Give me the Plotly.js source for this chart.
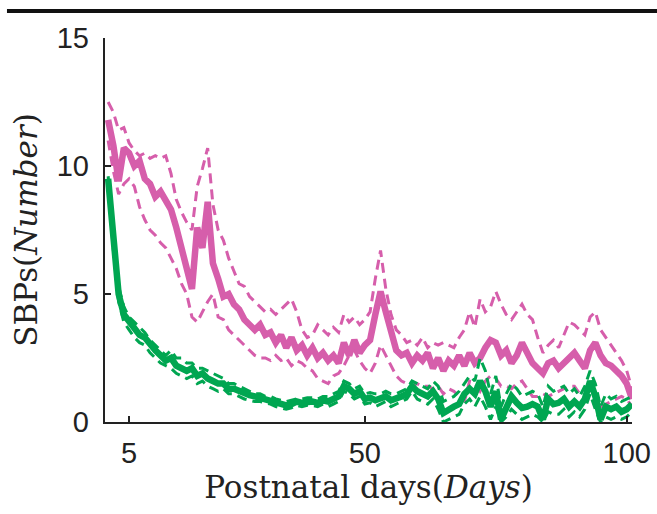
<!DOCTYPE html>
<html><head><meta charset="utf-8">
<script src="https://cdn.plot.ly/plotly-3.0.1.min.js"></script>
<style>html,body{margin:0;padding:0;background:#fff}#chart{width:657px;height:514px}</style>
</head><body><div id="chart"></div>
<script>
const days = [1,2,3,4,5,6,7,8,9,10,11,12,13,14,15,16,17,18,19,20,21,22,23,24,25,26,27,28,29,30,31,32,33,34,35,36,37,38,39,40,41,42,43,44,45,46,47,48,49,50,51,52,53,54,55,56,57,58,59,60,61,62,63,64,65,66,67,68,69,70,71,72,73,74,75,76,77,78,79,80,81,82,83,84,85,86,87,88,89,90,91,92,93,94,95,96,97,98,99,100,101];

const magentaMean = [11.8,10.8,9.4,10.7,10.5,10.0,10.2,9.5,9.3,8.8,9.0,8.6,8.3,7.6,6.8,6.2,5.2,7.6,6.8,8.6,6.2,5.6,4.9,5.0,4.6,4.4,4.0,3.8,3.6,3.8,3.4,3.5,3.1,3.4,2.9,3.3,2.8,3.0,2.6,2.9,2.5,2.7,2.4,2.6,2.3,3.1,2.6,3.2,2.7,3.0,3.2,4.2,5.1,4.3,3.5,2.8,2.6,2.7,2.3,2.6,2.4,2.7,2.1,2.5,2.0,2.4,2.2,2.6,2.2,2.7,2.3,2.5,2.9,3.2,3.1,2.6,2.8,2.3,2.6,3.1,2.7,2.3,2.1,1.9,2.3,2.4,2.1,2.3,2.5,2.7,2.4,2.1,2.8,3.1,2.6,2.3,2.2,2.0,1.8,1.5,0.9];
const magentaUpper = [12.5,12.1,11.4,11.5,10.9,10.6,10.4,10.5,10.3,10.4,10.3,10.4,9.7,8.7,8.2,7.8,7.5,9.2,9.9,10.7,8.5,7.5,7.1,6.4,5.9,5.4,5.3,4.9,4.7,4.5,4.3,4.4,4.2,4.4,4.6,4.8,4.3,3.6,3.3,3.4,3.8,3.6,3.4,3.7,3.5,4.2,3.9,4.1,3.8,4.0,4.3,5.6,6.7,5.2,4.2,3.6,3.4,3.1,3.2,3.0,3.3,2.9,3.1,3.0,3.1,3.0,2.9,3.3,3.6,4.3,3.7,4.8,4.3,4.5,5.1,4.6,4.2,4.0,4.3,4.6,4.2,4.0,3.3,2.7,3.0,3.2,2.9,3.4,3.9,3.8,3.6,3.4,4.1,4.3,3.6,3.3,3.0,2.7,2.4,2.0,1.3];
const magentaLower = [11.0,9.8,8.9,9.3,9.5,9.2,8.4,7.9,7.5,7.3,7.0,6.8,6.4,6.0,5.4,5.0,4.1,3.9,4.3,4.7,5.0,4.1,4.0,3.6,3.4,3.2,3.0,2.8,2.6,2.5,2.5,2.4,2.6,2.4,2.5,2.2,2.4,2.3,2.1,2.0,1.7,1.6,1.5,1.8,1.9,2.2,2.6,2.8,2.4,2.1,1.9,2.3,3.0,2.6,2.2,1.8,1.6,1.5,1.4,1.5,1.4,1.4,1.3,1.4,1.1,1.3,1.2,1.0,0.8,1.6,1.5,1.2,1.6,1.8,1.7,1.4,1.4,1.3,1.5,1.6,1.3,1.0,1.0,1.1,1.0,1.1,1.2,1.3,1.4,1.4,1.1,1.3,1.4,1.2,0.6,0.7,0.8,0.9,1.0,0.9,0.6];

const greenMean = [9.5,7.0,5.0,4.2,3.9,3.6,3.4,3.3,3.0,2.8,2.6,2.4,2.5,2.2,2.1,2.0,2.1,1.8,1.9,1.7,1.6,1.5,1.5,1.3,1.3,1.2,1.1,1.05,1.0,0.95,0.9,0.85,0.75,0.7,0.65,0.7,0.8,0.75,0.8,0.8,0.75,0.85,0.8,0.9,1.0,1.4,1.3,1.1,1.2,0.9,0.95,0.85,0.9,1.0,0.85,0.9,1.0,1.1,1.4,1.2,1.1,1.0,1.2,0.9,0.35,0.5,0.6,0.7,1.1,1.3,1.1,1.6,1.2,0.6,1.2,0.1,0.6,1.0,0.75,0.55,0.6,0.7,0.6,0.1,0.9,0.7,0.75,0.9,0.6,0.8,0.6,0.9,1.6,1.0,0.1,0.6,0.5,0.6,0.4,0.5,0.7];
const greenUpper = [9.6,7.3,5.3,4.5,4.1,3.9,3.7,3.5,3.2,3.0,2.8,2.6,2.8,2.5,2.5,2.3,2.3,2.1,2.1,2.0,1.9,1.8,1.7,1.5,1.5,1.4,1.3,1.2,1.1,1.1,1.0,1.0,0.9,0.85,0.8,0.85,0.9,0.9,0.95,0.95,0.9,1.0,1.0,1.1,1.2,1.6,1.5,1.3,1.4,1.1,1.15,1.1,1.1,1.2,1.1,1.1,1.2,1.3,1.6,1.5,1.4,1.3,1.6,1.4,0.8,0.9,1.0,1.2,1.5,1.8,1.6,2.5,2.0,1.1,1.8,0.6,1.1,1.5,1.3,1.0,1.1,1.2,1.1,0.6,1.4,1.2,1.3,1.4,1.1,1.3,1.0,1.4,2.0,1.5,0.6,1.1,0.9,1.0,0.8,0.9,1.0];
const greenLower = [9.3,6.7,4.7,3.9,3.6,3.3,3.1,3.0,2.7,2.5,2.3,2.2,2.1,1.9,1.8,1.7,1.8,1.5,1.6,1.4,1.3,1.2,1.3,1.1,1.1,1.0,0.9,0.85,0.8,0.8,0.75,0.7,0.6,0.55,0.5,0.55,0.65,0.6,0.65,0.65,0.6,0.7,0.6,0.7,0.8,1.2,1.1,0.9,1.0,0.7,0.75,0.6,0.7,0.8,0.6,0.7,0.8,0.9,1.2,0.9,0.8,0.7,0.9,0.5,0.0,0.1,0.2,0.3,0.7,0.9,0.6,1.0,0.6,0.1,0.6,0.0,0.2,0.5,0.3,0.1,0.2,0.3,0.2,0.0,0.4,0.3,0.3,0.5,0.2,0.4,0.2,0.5,1.1,0.5,0.0,0.2,0.1,0.2,0.1,0.2,0.4];

const xTickVals = [5, 50, 100];
const xTickText = ['5', '50', '100'];
const yTickVals = [0, 5, 10, 15];
const yTickText = ['0', '5', '10', '15'];

const MAGENTA = '#d65eab';
const GREEN = '#00a651';

function dashed(y, c) {
  return {x: days, y: y, type: 'scatter', mode: 'lines', hoverinfo: 'skip',
    line: {color: c, width: 3, dash: '10px,6px'}, showlegend: false};
}
function solid(y, c) {
  return {x: days, y: y, type: 'scatter', mode: 'lines', hoverinfo: 'skip',
    line: {color: c, width: 6.5}, showlegend: false};
}

const data = [
  dashed(magentaUpper, MAGENTA), dashed(magentaLower, MAGENTA), solid(magentaMean, MAGENTA),
  dashed(greenUpper, GREEN), dashed(greenLower, GREEN), solid(greenMean, GREEN)
];

const axisFont = {family: 'Liberation Sans, Arial, sans-serif', size: 29, color: '#222'};
const layout = {
  width: 657, height: 514,
  margin: {l: 105, r: 25, t: 38, b: 92, pad: 0},
  paper_bgcolor: '#fff', plot_bgcolor: '#fff',
  showlegend: false,
  xaxis: {
    range: [0.4, 101], tickvals: xTickVals, ticktext: xTickText,
    ticks: 'inside', ticklen: 6, tickwidth: 2, tickcolor: '#222',
    showline: true, linecolor: '#222', linewidth: 2.2,
    showgrid: false, zeroline: false, mirror: false,
    tickfont: axisFont, ticklabelstandoff: 4,
    title: {text: 'Postnatal days(<i>Days</i>)', font: {family: 'DejaVu Serif, serif', size: 31, color: '#222'}, standoff: 8}
  },
  yaxis: {
    range: [0, 15], tickvals: yTickVals, ticktext: yTickText,
    ticks: 'inside', ticklen: 6, tickwidth: 2, tickcolor: '#222',
    showline: true, linecolor: '#222', linewidth: 2.2,
    showgrid: false, zeroline: false, mirror: false,
    tickfont: axisFont, ticklabelstandoff: 8,
    title: {text: 'SBPs(<i>Number</i>)', font: {family: 'DejaVu Serif, serif', size: 31, color: '#222'}, standoff: 10}
  },
  shapes: [{
    type: 'line', xref: 'paper', yref: 'paper',
    x0: -0.186, x1: 1.05, y0: 1.07, y1: 1.07,
    line: {color: '#111', width: 4}
  }]
};

Plotly.newPlot('chart', data, layout, {staticPlot: true, displayModeBar: false});
</script>
</body></html>
